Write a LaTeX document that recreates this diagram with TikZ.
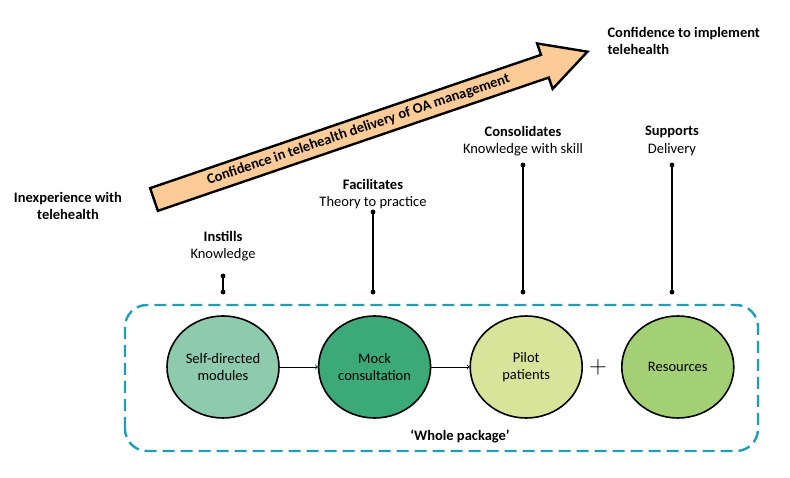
\documentclass[tikz,border=0pt]{standalone}
\usepackage{fontspec}
\setmainfont{Carlito}
\usepackage{xcolor}
\usetikzlibrary{shapes.geometric, arrows, positioning}
\definecolor{peach}{HTML}{FCCB97}
\definecolor{boxteal}{HTML}{1F9FB5}
\definecolor{selfgreen}{HTML}{8ECAAE}
\definecolor{mockgreen}{HTML}{3BAA78}
\definecolor{pilotgreen}{HTML}{D9E49B}
\definecolor{resgreen}{HTML}{A4D075}
\tikzstyle{stage} = [ellipse, minimum width=112pt, minimum height=102pt, inner sep=0pt, align=center, draw=black, line width=1.6pt]
\tikzstyle{role} = [align=center]
\tikzstyle{arrow} = [line width=0.8pt,->,>=to]
\tikzstyle{pin} = [line width=1.1pt]
\tikzstyle{wholebox} = [draw=boxteal, line width=2.4pt, dash pattern=on 12pt off 6pt, rounded corners=22pt]

\begin{document}
\begin{tikzpicture}[x=1pt, y=1pt, font=\fontsize{14.5}{17.5}\selectfont]
		\useasboundingbox (0,0) rectangle (790,478);
		
		% Big arrow of growing confidence
		\begin{scope}[shift={(154,278.5)}, rotate=18.83]
			\draw [fill=peach, line width=2.4pt, line join=miter] (0,-12) -- (413,-12) -- (413,-24) -- (458,0) -- (413,24) -- (413,12) -- (0,12) -- cycle;
			\node (confarrow) [rotate=18.83] at (216,0) {\textbf{Confidence in telehealth delivery of OA management}};
		\end{scope}
		
		% End labels
		\node (inexp) [role] at (68,272) {\textbf{Inexperience with}\\\textbf{telehealth}};
		\node (confimpl) [align=left, anchor=west] at (604,437) {\textbf{Confidence to implement}\\\textbf{telehealth}};
		
		% Whole package box
		\draw [wholebox] (125,27) rectangle (758,173);
		\node (whole) at (460,42) {\textbf{‘Whole package’}};
		
		% Nodes for the package
		\node (selfdir) [stage, fill=selfgreen] at (223,111) {Self-directed\\modules};
		\node (mock) [stage, fill=mockgreen, right=38pt of selfdir] {Mock\\consultation};
		\node (pilot) [stage, fill=pilotgreen, right=38pt of mock] {Pilot\\patients};
		\node (resources) [stage, fill=resgreen, right=38pt of pilot] {Resources};
		\node (plus) at (598,111) {\fontsize{24}{24}\selectfont$+$};
		
		% Arrows between stages
		\draw [arrow] (selfdir) -- (mock);
		\draw [arrow] (mock) -- (pilot);
		
		% Role labels
		\node (instills) [role] at (223,232) {\textbf{Instills}\\Knowledge};
		\node (facilitates) [role] at (373,284) {\textbf{Facilitates}\\Theory to practice};
		\node (consolidates) [role] at (523,337) {\textbf{Consolidates}\\Knowledge with skill};
		\node (supports) [role] at (672,337) {\textbf{Supports}\\Delivery};
		
		% Pin lines
		\coordinate (instillstop) at (223,202);
		\coordinate (instillsend) at (223,186);
		\coordinate (facilitatestop) at (373,266);
		\coordinate (facilitatesend) at (373,186);
		\coordinate (consolidatestop) at (523,313);
		\coordinate (consolidatesend) at (523,186);
		\coordinate (supportstop) at (672,313);
		\coordinate (supportsend) at (672,186);
		\foreach \p in {instills, facilitates, consolidates, supports} {
			\draw [pin] (\p top) -- (\p end);
			\fill (\p top) circle (2.4pt);
			\fill (\p end) circle (2.4pt);
		}
		
	\end{tikzpicture}
\end{document}
